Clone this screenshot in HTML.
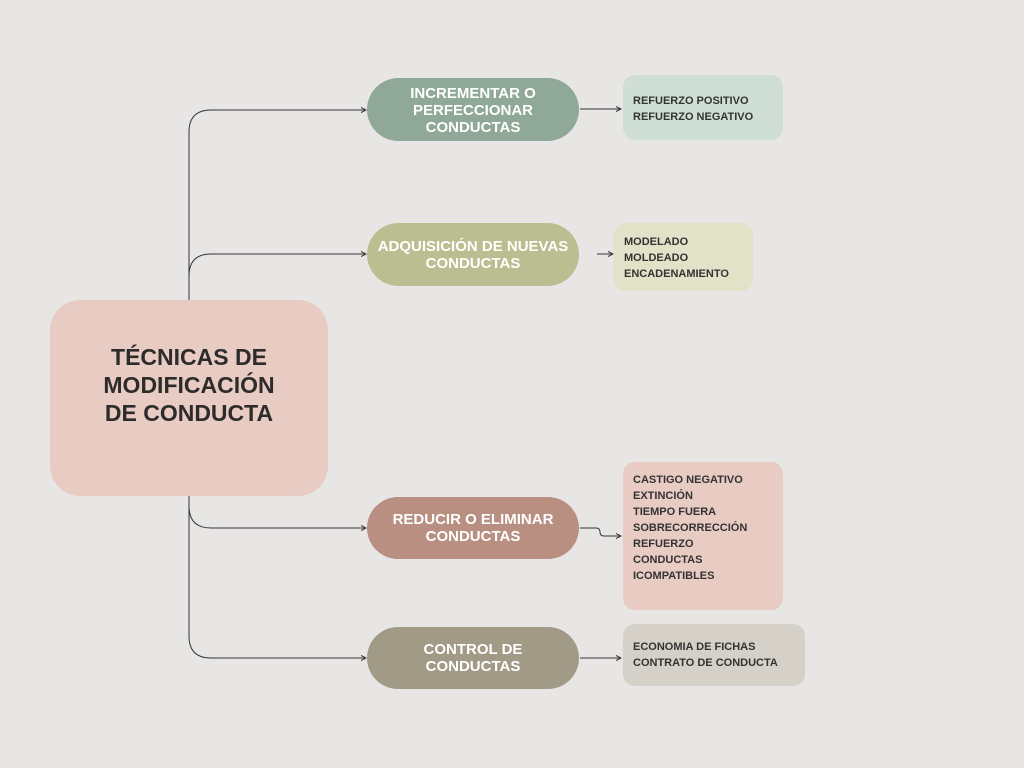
<!DOCTYPE html>
<html><head><meta charset="utf-8"><style>
body{margin:0;width:1024px;height:768px;background:#e8e6e4;position:relative;overflow:hidden;font-family:"Liberation Sans",sans-serif;font-weight:bold}
.a{position:absolute;box-sizing:border-box}
.c{display:flex;align-items:center;justify-content:center;text-align:center}
.pill{color:#fff;font-size:15px;line-height:17px;border-radius:32px;width:212px;left:367px}
.box{color:#333;font-size:11px;line-height:16px;padding:0 10px;border-radius:12px}
</style></head><body>
<svg class="a" style="left:0;top:0" width="1024" height="768">
<defs><marker id="ar" markerWidth="6" markerHeight="6" refX="5" refY="3" orient="auto"><path d="M0,0.5 L5,3 L0,5.5" fill="none" stroke="#333" stroke-width="1"/></marker></defs>
<g fill="none" stroke="#333" stroke-width="1">
<path d="M189,300 V132 Q189,110 211,110 H366" marker-end="url(#ar)"/>
<path d="M189,276 Q189,254 211,254 H366" marker-end="url(#ar)"/>
<path d="M189,496 V506 Q189,528 211,528 H366" marker-end="url(#ar)"/>
<path d="M189,496 V636 Q189,658 211,658 H366" marker-end="url(#ar)"/>
<path d="M580,109 H621" marker-end="url(#ar)"/>
<path d="M597,254 H613" marker-end="url(#ar)"/>
<path d="M580,528 H596 Q600,528 600,532 Q600,536 604,536 H621" marker-end="url(#ar)"/>
<path d="M580,658 H621" marker-end="url(#ar)"/>
</g></svg>
<div class="a c" style="left:50px;top:300px;width:278px;height:196px;border-radius:30px;background:#e8cbc2;color:#2e2c2b;font-size:23px;line-height:28px;padding-bottom:27px">TÉCNICAS DE<br>MODIFICACIÓN<br>DE CONDUCTA</div>
<div class="a c pill" style="top:78px;height:63px;background:#8fa898;padding-top:1px">INCREMENTAR O<br>PERFECCIONAR<br>CONDUCTAS</div>
<div class="a c pill" style="top:223px;height:63px;background:#bbbe91">ADQUISICIÓN DE NUEVAS<br>CONDUCTAS</div>
<div class="a c pill" style="top:497px;height:62px;background:#b88f80">REDUCIR O ELIMINAR<br>CONDUCTAS</div>
<div class="a c pill" style="top:627px;height:62px;background:#a19a87">CONTROL DE<br>CONDUCTAS</div>
<div class="a box" style="left:623px;top:75px;width:160px;height:65px;background:#d0dfd6;padding-top:18px">REFUERZO POSITIVO<br>REFUERZO NEGATIVO</div>
<div class="a box" style="left:614px;top:223px;width:139px;height:68px;background:#e2e2c8;padding-top:11px">MODELADO<br>MOLDEADO<br>ENCADENAMIENTO</div>
<div class="a box" style="left:623px;top:462px;width:160px;height:148px;background:#e8cbc2;padding-top:10px">CASTIGO NEGATIVO<br>EXTINCIÓN<br>TIEMPO FUERA<br>SOBRECORRECCIÓN<br>REFUERZO<br>CONDUCTAS<br>ICOMPATIBLES</div>
<div class="a box" style="left:623px;top:624px;width:182px;height:62px;background:#d5d0c8;padding-top:15px">ECONOMIA DE FICHAS<br>CONTRATO DE CONDUCTA</div>
</body></html>
